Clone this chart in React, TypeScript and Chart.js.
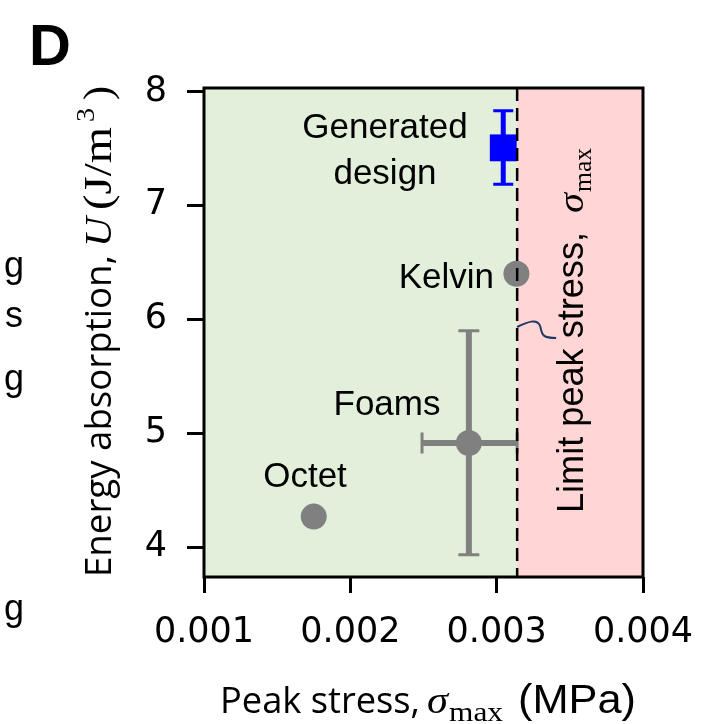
import React, { useEffect, useRef } from "react";
import { Chart, registerables } from "chart.js";

Chart.register(...registerables);

// ---- data ----
const xTicks = [0.001, 0.002, 0.003, 0.004];
const xTickLabels = ["0.001", "0.002", "0.003", "0.004"];
const yTicks = [4, 5, 6, 7, 8];
const yTickLabels = ["4", "5", "6", "7", "8"];
const xMin = 0.001;
const xMax = 0.004;
const yMin = 3.74;
const yMax = 8.03;
const limitStress = 0.00314;

const grayNames = ["Octet", "Foams", "Kelvin"];
const grayX = [0.00175, 0.00281, 0.003135];
const grayY = [4.27, 4.915, 6.4];
const grayXErrLow = [null, 0.00249, null];
const grayXErrHigh = [null, 0.00314, null];
const grayYErrLow = [null, 3.935, null];
const grayYErrHigh = [null, 5.9, null];

const genNames = ["Generated design"];
const genX = [0.003045];
const genY = [7.505];
const genYErrLow = [7.185];
const genYErrHigh = [7.83];

const GREEN = "#e2efda";
const PINK = "#ffd5d5";
const GRAY = "#808080";
const BLUE = "#0000ff";

const SANS = "'Liberation Sans', Arial, sans-serif";
const CAL = "'Open Sans', sans-serif";
const SERIF = "'Liberation Serif', 'Times New Roman', serif";

function piece(ctx: CanvasRenderingContext2D, text: string, font: string, x: number, y: number, width?: number) {
  ctx.font = font;
  ctx.textAlign = "left";
  ctx.textBaseline = "alphabetic";
  const w = ctx.measureText(text).width;
  ctx.save();
  ctx.translate(x, y);
  if (width) ctx.scale(width / w, 1);
  ctx.fillText(text, 0, 0);
  ctx.restore();
}

const bgPlugin = {
  id: "bg",
  beforeDraw(chart: any) {
    const { ctx, chartArea: a, scales } = chart;
    const lx = scales.x.getPixelForValue(limitStress);
    ctx.save();
    ctx.fillStyle = GREEN;
    ctx.fillRect(a.left, a.top, lx - a.left, a.bottom - a.top);
    ctx.fillStyle = PINK;
    ctx.fillRect(lx, a.top, a.right - lx, a.bottom - a.top);
    ctx.restore();
  },
};

const errPlugin = {
  id: "err",
  beforeDatasetsDraw(chart: any) {
    const { ctx, scales } = chart;
    const X = scales.x, Y = scales.y;
    ctx.save();
    const vbar = (xv: number, lo: number, hi: number, color: string, lw: number, cap: number) => {
      const px = X.getPixelForValue(xv);
      const p1 = Y.getPixelForValue(lo), p2 = Y.getPixelForValue(hi);
      ctx.strokeStyle = color;
      ctx.lineWidth = lw;
      ctx.beginPath(); ctx.moveTo(px, p1); ctx.lineTo(px, p2); ctx.stroke();
      ctx.lineWidth = 3;
      ctx.beginPath();
      ctx.moveTo(px - cap / 2, p1); ctx.lineTo(px + cap / 2, p1);
      ctx.moveTo(px - cap / 2, p2); ctx.lineTo(px + cap / 2, p2);
      ctx.stroke();
    };
    const hbar = (yv: number, lo: number, hi: number, color: string, lw: number, cap: number) => {
      const py = Y.getPixelForValue(yv);
      const p1 = X.getPixelForValue(lo), p2 = X.getPixelForValue(hi);
      ctx.strokeStyle = color;
      ctx.lineWidth = lw;
      ctx.beginPath(); ctx.moveTo(p1, py); ctx.lineTo(p2, py); ctx.stroke();
      ctx.lineWidth = 3;
      ctx.beginPath();
      ctx.moveTo(p1, py - cap / 2); ctx.lineTo(p1, py + cap / 2);
      ctx.moveTo(p2, py - cap / 2); ctx.lineTo(p2, py + cap / 2);
      ctx.stroke();
    };
    grayX.forEach((xv, i) => {
      const xl = grayXErrLow[i], xh = grayXErrHigh[i];
      const yl = grayYErrLow[i], yh = grayYErrHigh[i];
      if (xl != null && xh != null) hbar(grayY[i], xl, xh, GRAY, 6, 21);
      if (yl != null && yh != null) vbar(xv, yl, yh, GRAY, 6, 21);
    });
    genX.forEach((xv, i) => vbar(xv, genYErrLow[i], genYErrHigh[i], BLUE, 5, 20));
    ctx.restore();
  },
  afterDatasetsDraw(chart: any) {
    const { ctx, chartArea: a, scales } = chart;
    const lx = scales.x.getPixelForValue(limitStress);
    ctx.save();
    ctx.strokeStyle = "#000";
    ctx.lineWidth = 2.5;
    ctx.setLineDash([13, 7]);
    ctx.beginPath(); ctx.moveTo(lx, a.top); ctx.lineTo(lx, a.bottom); ctx.stroke();
    ctx.setLineDash([]);
    ctx.strokeStyle = "#1f3864";
    ctx.lineWidth = 2;
    ctx.beginPath();
    ctx.moveTo(lx, 327);
    ctx.bezierCurveTo(lx + 10, 322, lx + 20, 318, lx + 23, 326);
    ctx.bezierCurveTo(lx + 25, 334, lx + 24, 338, lx + 39, 338);
    ctx.stroke();
    ctx.strokeStyle = "#000";
    ctx.lineWidth = 3;
    ctx.strokeRect(a.left, a.top, a.right - a.left, a.bottom - a.top);
    ctx.restore();
  },
  afterDraw(chart: any) {
    const { ctx } = chart;
    ctx.save();
    ctx.fillStyle = "#000";
    piece(ctx, "D", `bold 58px ${SANS}`, 29, 65);
    ctx.font = `36px ${SANS}`;
    ctx.textAlign = "right";
    ctx.fillText("g", 24, 277);
    ctx.fillText("s", 23, 327);
    ctx.fillText("g", 24, 390);
    ctx.fillText("g", 24, 620);
    ctx.textAlign = "left";

    ctx.font = `35px ${SANS}`;
    ctx.textAlign = "center";
    ctx.fillText("Generated", 385, 138);
    ctx.fillText("design", 385, 184);
    ctx.fillText("Foams", 387, 415);
    ctx.fillText("Octet", 305, 487);
    ctx.textAlign = "right";
    ctx.fillText("Kelvin", 494, 288);
    ctx.textAlign = "left";

    ctx.save();
    ctx.translate(583, 513);
    ctx.rotate(-Math.PI / 2);
    piece(ctx, "Limit peak stress,", `36px ${SANS}`, 0, 0, 281);
    piece(ctx, "\u03c3", `italic 36px ${SERIF}`, 300, 0, 20);
    piece(ctx, "max", `26px ${SERIF}`, 321, 8, 44);
    ctx.restore();

    piece(ctx, "Peak stress,", `36px ${CAL}`, 220, 713, 200);
    piece(ctx, "\u03c3", `italic 38px ${SERIF}`, 427, 713, 21);
    piece(ctx, "max", `28px ${SERIF}`, 449, 721, 54);
    piece(ctx, "(MPa)", `40px ${SANS}`, 518, 713, 118);

    ctx.save();
    ctx.translate(111, 577);
    ctx.rotate(-Math.PI / 2);
    piece(ctx, "Energy absorption,", `36px ${CAL}`, 0, 0, 322);
    piece(ctx, "U", `italic 38px ${SERIF}`, 330, 0, 30);
    piece(ctx, "(J/m", `40px ${SERIF}`, 367, 0, 83);
    piece(ctx, "3", `26px ${SERIF}`, 455, -17, 14);
    piece(ctx, ")", `40px ${SERIF}`, 477, 0, 14);
    ctx.restore();
    ctx.restore();
  },
};

export default function App() {
  const ref = useRef<HTMLCanvasElement | null>(null);
  useEffect(() => {
    document.body.style.margin = "0";
    const canvas = ref.current!;
    const tickFont = { family: "'DejaVu Sans', sans-serif", size: 35 };
    const chart = new Chart(canvas, {
      type: "scatter",
      data: {
        datasets: [
          {
            label: "Lattices and foams",
            data: grayX.map((x, i) => ({ x, y: grayY[i], name: grayNames[i] })),
            backgroundColor: GRAY,
            borderWidth: 0,
            pointRadius: 13,
            pointStyle: "circle",
          },
          {
            label: genNames[0],
            data: genX.map((x, i) => ({ x, y: genY[i] })),
            backgroundColor: BLUE,
            borderColor: BLUE,
            borderWidth: 0,
            pointRadius: 19,
            pointStyle: "rect",
          },
        ],
      },
      options: {
        animation: false,
        responsive: false,
        maintainAspectRatio: false,
        devicePixelRatio: 1,
        events: [],
        layout: { padding: { top: 88, right: 66, left: 0, bottom: 0 } },
        plugins: { legend: { display: false }, tooltip: { enabled: false }, title: { display: false } },
        scales: {
          x: {
            type: "linear",
            min: xMin,
            max: xMax,
            afterBuildTicks: (s: any) => { s.ticks = xTicks.map((v) => ({ value: v })); },
            afterFit: (s: any) => { s.height = 147; s.paddingLeft = 0; s.paddingRight = 0; },
            ticks: {
              callback: (v: any) => { const i = xTicks.indexOf(v); return i >= 0 ? xTickLabels[i] : ""; },
              font: tickFont,
              color: "#000",
              padding: 19,
              maxRotation: 0,
              autoSkip: false,
            },
            grid: { drawOnChartArea: false, drawTicks: true, tickLength: 16, tickWidth: 3, tickColor: "#000", color: "#000", lineWidth: 3 },
            border: { display: false },
          },
          y: {
            type: "linear",
            min: yMin,
            max: yMax,
            afterBuildTicks: (s: any) => { s.ticks = yTicks.map((v) => ({ value: v })); },
            afterFit: (s: any) => { s.width = 204; s.paddingTop = 0; s.paddingBottom = 0; },
            ticks: {
              callback: (v: any) => { const i = yTicks.indexOf(v); return i >= 0 ? yTickLabels[i] : ""; },
              font: tickFont,
              color: "#000",
              padding: 20,
              autoSkip: false,
            },
            grid: { drawOnChartArea: false, drawTicks: true, tickLength: 17, tickWidth: 3, tickColor: "#000", color: "#000", lineWidth: 3 },
            border: { display: false },
          },
        },
      },
      plugins: [bgPlugin, errPlugin],
    } as any);
    return () => chart.destroy();
  }, []);
  return (
    <div style={{ width: 709, height: 724, background: "#fff" }}>
      <canvas ref={ref} width={709} height={724} style={{ display: "block" }} />
    </div>
  );
}
